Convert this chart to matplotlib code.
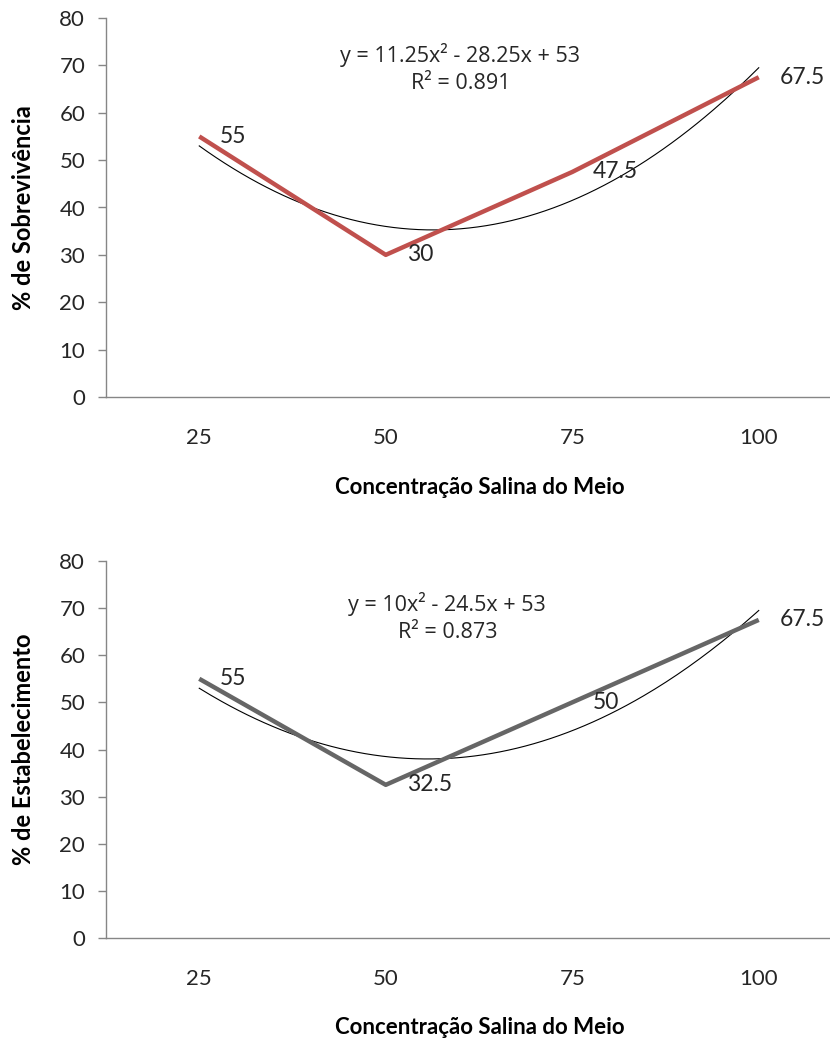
import numpy as np
import matplotlib
matplotlib.use("Agg")
import matplotlib.pyplot as plt

# concentrations (category axis) and the two measured responses
categories = ["25", "50", "75", "100"]
sobrevivencia = [55, 30, 47.5, 67.5]
estabelecimento = [55, 32.5, 50, 67.5]
labels_sob = ["55", "30", "47.5", "67.5"]
labels_est = ["55", "32.5", "50", "67.5"]
eq_sob = ["y = 11.25x\u00b2 - 28.25x + 53", "R\u00b2 = 0.891"]
eq_est = ["y = 10x\u00b2 - 24.5x + 53", "R\u00b2 = 0.873"]

plt.rcParams["font.family"] = ["Lato", "DejaVu Sans"]
TXT = "#262626"
AXC = "#868686"


def panel(ax, values, labels, eq, color, ylabel, eq_pos):
    x = np.arange(1, len(values) + 1)
    # quadratic trendline like Excel's polynomial (order 2)
    coef = np.polyfit(x, values, 2)
    xs = np.linspace(1, len(values), 200)
    ax.plot(xs, np.polyval(coef, xs), color="black", lw=0.8, zorder=2)
    ax.plot(x, values, color=color, lw=3.2, solid_capstyle="butt", zorder=3)
    for xi, yi, lab in zip(x, values, labels):
        ax.annotate(lab, (xi, yi), xytext=(15, 0), textcoords="offset points",
                    ha="left", va="center", fontsize=16.5, color=TXT, zorder=4)
    ax.text(eq_pos[0], eq_pos[1], eq[0] + "\n" + eq[1], ha="center", va="center",
            fontsize=15.5, color=TXT, linespacing=1.35,
            family=["Open Sans", "DejaVu Sans"])

    ax.set_xlim(0.5, len(values) + 0.5)
    ax.set_ylim(0, 80)
    ax.set_yticks(range(0, 81, 10))
    ax.set_xticks(x, categories)
    ax.tick_params(axis="x", length=0, pad=22, labelsize=16, labelcolor=TXT)
    ax.tick_params(axis="y", length=6, width=1, color=AXC, pad=9,
                   labelsize=16, labelcolor=TXT)
    for s in ["top", "right"]:
        ax.spines[s].set_visible(False)
    for s in ["left", "bottom"]:
        ax.spines[s].set_color(AXC)
        ax.spines[s].set_linewidth(1.0)
    ax.set_xlabel("Concentração Salina do Meio", fontsize=16, fontweight="bold",
                  color="black")
    ax.xaxis.set_label_coords((480 - 106) / 746, -0.21)
    ax.set_ylabel(ylabel, fontsize=17, fontweight="bold", color="black")
    ax.yaxis.set_label_coords(-0.095, 0.5)


fig = plt.figure(figsize=(8.3, 10.4), dpi=100)
ax1 = fig.add_axes([106 / 830, 1 - 397 / 1040, 746 / 830, 379 / 1040])
ax2 = fig.add_axes([106 / 830, 1 - 938 / 1040, 746 / 830, 377 / 1040])

panel(ax1, sobrevivencia, labels_sob, eq_sob, "#C0504D", "% de Sobrevivência", (2.40, 69.4))
panel(ax2, estabelecimento, labels_est, eq_est, "#666666", "% de Estabelecimento", (2.33, 68.0))

fig.savefig("out.png", dpi=100)
